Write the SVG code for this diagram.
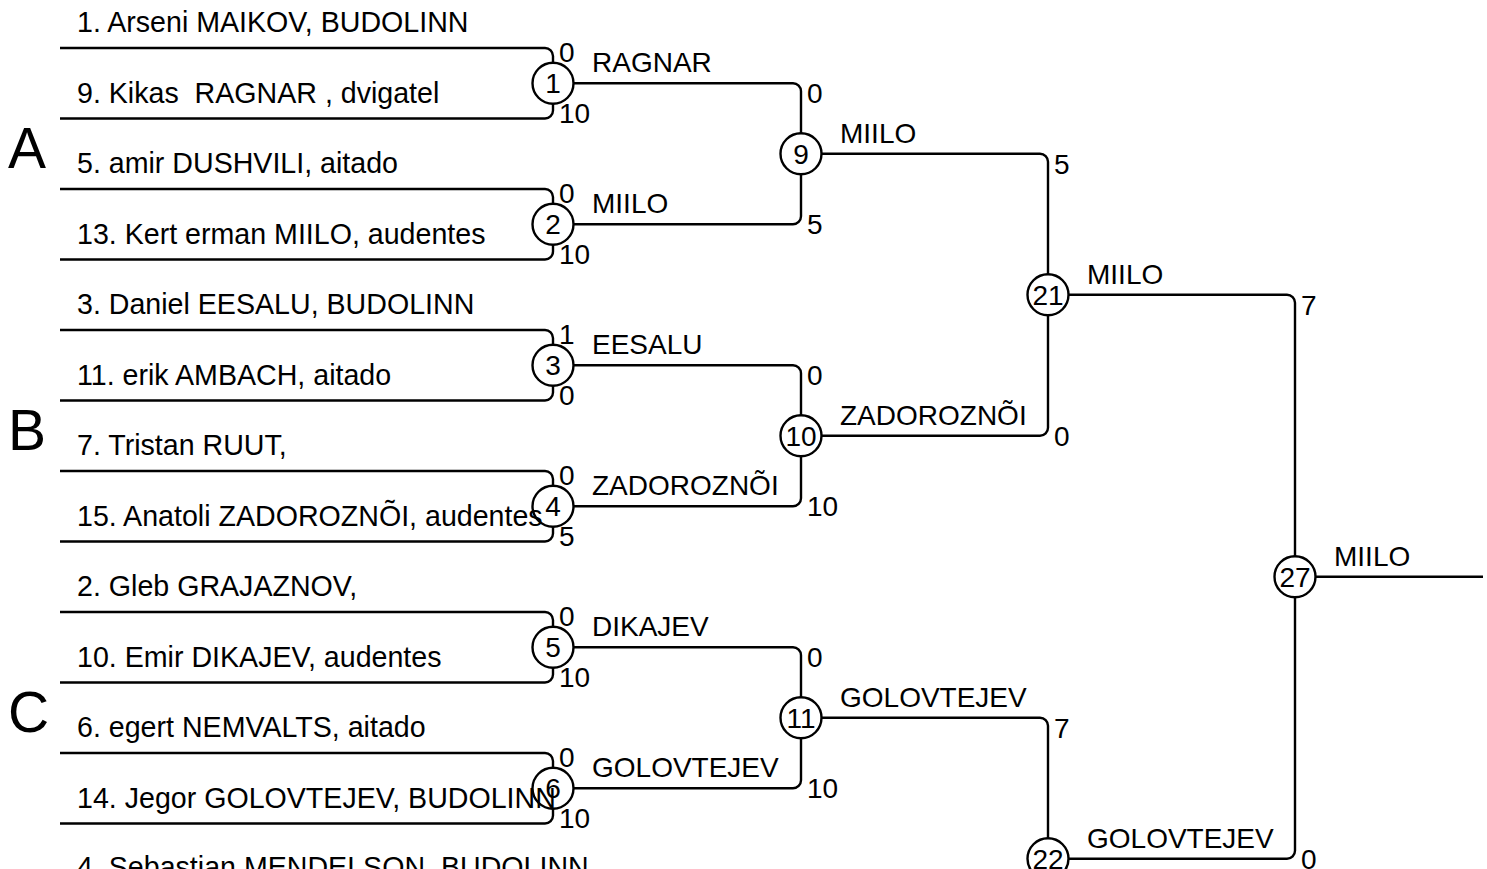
<svg xmlns="http://www.w3.org/2000/svg" width="1487" height="869" viewBox="0 0 1487 869">
<style>
.ln{fill:none;stroke:#000;stroke-width:2.4;stroke-linejoin:round}
.nd{fill:none;stroke:#000;stroke-width:2.4}
text{font-family:"Liberation Sans",Arial,Helvetica,sans-serif;font-size:28px;fill:#000}
.c{text-anchor:middle}
.big{font-size:57px}
.nm{white-space:pre;font-size:28.6px}
</style>
<rect width="1487" height="869" fill="#fff"/>
<g id="groups">
<text class="big" x="8" y="168">A</text>
<text class="big" x="8" y="450">B</text>
<text class="big" x="8" y="732">C</text>
</g>
<g id="players">
<text class="nm" x="77" y="32" xml:space="preserve">1. Arseni MAIKOV, BUDOLINN</text>
<text class="nm" x="77" y="102.5" xml:space="preserve">9. Kikas  RAGNAR , dvigatel</text>
<text class="nm" x="77" y="173" xml:space="preserve">5. amir DUSHVILI, aitado</text>
<text class="nm" x="77" y="243.5" xml:space="preserve">13. Kert erman MIILO, audentes</text>
<text class="nm" x="77" y="314" xml:space="preserve">3. Daniel EESALU, BUDOLINN</text>
<text class="nm" x="77" y="384.5" xml:space="preserve">11. erik AMBACH, aitado</text>
<text class="nm" x="77" y="455" xml:space="preserve">7. Tristan RUUT,</text>
<text class="nm" x="77" y="525.5" xml:space="preserve">15. Anatoli ZADOROZNÕI, audentes</text>
<text class="nm" x="77" y="596" xml:space="preserve">2. Gleb GRAJAZNOV,</text>
<text class="nm" x="77" y="666.5" xml:space="preserve">10. Emir DIKAJEV, audentes</text>
<text class="nm" x="77" y="737" xml:space="preserve">6. egert NEMVALTS, aitado</text>
<text class="nm" x="77" y="807.5" xml:space="preserve">14. Jegor GOLOVTEJEV, BUDOLINN</text>
<text class="nm" x="77" y="877" xml:space="preserve">4. Sebastian MENDELSON, BUDOLINN</text>
</g>
<g id="connectors">
<path class="ln" d="M60 48 H545 a8 8 0 0 1 8 8 V62.75 M553 103.75 V110.5 a8 8 0 0 1 -8 8 H60"/>
<path class="ln" d="M60 189 H545 a8 8 0 0 1 8 8 V203.75 M553 244.75 V251.5 a8 8 0 0 1 -8 8 H60"/>
<path class="ln" d="M60 330 H545 a8 8 0 0 1 8 8 V344.75 M553 385.75 V392.5 a8 8 0 0 1 -8 8 H60"/>
<path class="ln" d="M60 471 H545 a8 8 0 0 1 8 8 V485.75 M553 526.75 V533.5 a8 8 0 0 1 -8 8 H60"/>
<path class="ln" d="M60 612 H545 a8 8 0 0 1 8 8 V626.75 M553 667.75 V674.5 a8 8 0 0 1 -8 8 H60"/>
<path class="ln" d="M60 753 H545 a8 8 0 0 1 8 8 V767.75 M553 808.75 V815.5 a8 8 0 0 1 -8 8 H60"/>
<path class="ln" d="M573.5 83.25 H793 a8 8 0 0 1 8 8 V133.25 M801 174.25 V216.25 a8 8 0 0 1 -8 8 H573.5"/>
<path class="ln" d="M573.5 365.25 H793 a8 8 0 0 1 8 8 V415.25 M801 456.25 V498.25 a8 8 0 0 1 -8 8 H573.5"/>
<path class="ln" d="M573.5 647.25 H793 a8 8 0 0 1 8 8 V697.25 M801 738.25 V780.25 a8 8 0 0 1 -8 8 H573.5"/>
<path class="ln" d="M821.5 153.75 H1040 a8 8 0 0 1 8 8 V274.25 M1048 315.25 V427.75 a8 8 0 0 1 -8 8 H821.5"/>
<path class="ln" d="M821.5 717.75 H1040 a8 8 0 0 1 8 8 V838.25"/>
<path class="ln" d="M1068.5 294.75 H1287 a8 8 0 0 1 8 8 V556.25 M1295 597.25 V850.75 a8 8 0 0 1 -8 8 H1068.5"/>
<path class="ln" d="M1315.5 576.75 H1483"/>
</g>
<g id="scores">
<text x="559" y="62">0</text><text x="559" y="122.5">10</text>
<text x="559" y="203">0</text><text x="559" y="263.5">10</text>
<text x="559" y="344">1</text><text x="559" y="404.5">0</text>
<text x="559" y="485">0</text><text x="559" y="545.5">5</text>
<text x="559" y="626">0</text><text x="559" y="686.5">10</text>
<text x="559" y="767">0</text><text x="559" y="827.5">10</text>
<text x="807" y="103.25">0</text><text x="807" y="234.25">5</text>
<text x="807" y="385.25">0</text><text x="807" y="516.25">10</text>
<text x="807" y="667.25">0</text><text x="807" y="798.25">10</text>
<text x="1054" y="173.75">5</text><text x="1054" y="445.75">0</text>
<text x="1054" y="737.75">7</text>
<text x="1301" y="314.75">7</text><text x="1301" y="868.75">0</text>
</g>
<g id="winners">
<text x="592" y="72.25">RAGNAR</text>
<text x="592" y="213.25">MIILO</text>
<text x="592" y="354.25">EESALU</text>
<text x="592" y="495.25">ZADOROZNÕI</text>
<text x="592" y="636.25">DIKAJEV</text>
<text x="592" y="777.25">GOLOVTEJEV</text>
<text x="840" y="142.75">MIILO</text>
<text x="840" y="424.75">ZADOROZNÕI</text>
<text x="840" y="706.75">GOLOVTEJEV</text>
<text x="1087" y="283.75">MIILO</text>
<text x="1087" y="847.75">GOLOVTEJEV</text>
<text x="1334" y="565.75">MIILO</text>
</g>
<g id="m1"><circle class="nd" cx="553" cy="83.25" r="20.5"/><text class="c" x="553" y="93.25">1</text></g>
<g id="m2"><circle class="nd" cx="553" cy="224.25" r="20.5"/><text class="c" x="553" y="234.25">2</text></g>
<g id="m3"><circle class="nd" cx="553" cy="365.25" r="20.5"/><text class="c" x="553" y="375.25">3</text></g>
<g id="m4"><circle class="nd" cx="553" cy="506.25" r="20.5"/><text class="c" x="553" y="516.25">4</text></g>
<g id="m5"><circle class="nd" cx="553" cy="647.25" r="20.5"/><text class="c" x="553" y="657.25">5</text></g>
<g id="m6"><circle class="nd" cx="553" cy="788.25" r="20.5"/><text class="c" x="553" y="798.25">6</text></g>
<g id="m9"><circle class="nd" cx="801" cy="153.75" r="20.5"/><text class="c" x="801" y="163.75">9</text></g>
<g id="m10"><circle class="nd" cx="801" cy="435.75" r="20.5"/><text class="c" x="801" y="445.75">10</text></g>
<g id="m11"><circle class="nd" cx="801" cy="717.75" r="20.5"/><text class="c" x="801" y="727.75">11</text></g>
<g id="m21"><circle class="nd" cx="1048" cy="294.75" r="20.5"/><text class="c" x="1048" y="304.75">21</text></g>
<g id="m22"><circle class="nd" cx="1048" cy="858.75" r="20.5"/><text class="c" x="1048" y="868.75">22</text></g>
<g id="m27"><circle class="nd" cx="1295" cy="576.75" r="20.5"/><text class="c" x="1295" y="586.75">27</text></g>
</svg>
